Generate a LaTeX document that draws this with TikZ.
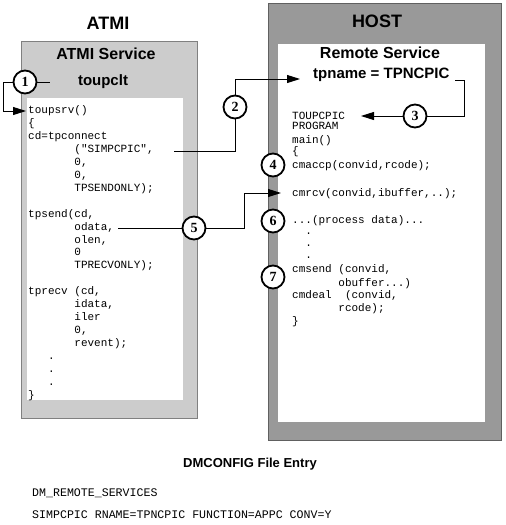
\documentclass[tikz,border=0pt]{standalone}
\usepackage{fontspec}
\setmainfont{Liberation Serif}
\newfontfamily\sansf{Liberation Sans}
\newfontfamily\monof{Liberation Mono}
\usetikzlibrary{arrows.meta}
\definecolor{lgray}{RGB}{204,204,204}
\definecolor{lgrayb}{RGB}{128,128,128}
\definecolor{dgray}{RGB}{153,153,153}
\definecolor{dgrayb}{RGB}{96,96,96}
\begin{document}
\begin{tikzpicture}[x=1pt,y=-1pt,
  title/.style={font=\sansf\bfseries\fontsize{18}{18}\selectfont, inner sep=0},
  sub/.style={font=\sansf\bfseries\fontsize{16}{16}\selectfont, inner sep=0},
  pname/.style={font=\sansf\bfseries\fontsize{15}{15}\selectfont, inner sep=0},
  code/.style={font=\monof\fontsize{11}{11}\selectfont, anchor=base west, inner sep=0},
  bigcode/.style={font=\monof\fontsize{11.6}{11.6}\selectfont, anchor=base west, inner sep=0},
  num/.style={circle, draw, line width=1.8pt, fill=white, minimum size=23pt, inner sep=0,
    font=\bfseries\fontsize{14}{14}\selectfont},
  conn/.style={line width=0.9pt},
  arr/.style={conn, -{Triangle[length=13pt,width=8pt]}}]
\fill[white] (0,0) rectangle (506,525);
\useasboundingbox (0,0) rectangle (506,525);
% boxes
\draw[lgrayb, fill=lgray] (21,41) rectangle (197,418);
\fill[white] (27,98) rectangle (183,400);
\draw[dgrayb, fill=dgray] (268,3) rectangle (501,440);
\fill[white] (278,44) rectangle (485,422);
% titles
\node[title] (atmi) at (108,23) {ATMI};
\node[title] (host) at (377,21) {HOST};
\node[sub] (atmisvc) at (106,54) {ATMI Service};
\node[sub] (remsvc) at (380,53) {Remote Service};
\node[pname, anchor=base] (toupclt) at (103,85) {toupclt};
\node[pname, anchor=base west] (tpname) at (313,78) {tpname = TPNCPIC};
% left code
\foreach \i/\t/\c in {0/{toupsrv()}/0, 1/{\{}/0, 2/{cd=tpconnect}/0, 3/{("SIMPCPIC",}/7,
  4/{0,}/7, 5/{0,}/7, 6/{TPSENDONLY);}/7, 8/{tpsend(cd,}/0, 9/{odata,}/7, 10/{olen,}/7,
  11/{0}/7, 12/{TPRECVONLY);}/7, 14/{tprecv (cd,}/0, 15/{idata,}/7, 16/{iler}/7, 17/{0,}/7,
  18/{revent);}/7, 19/{.}/3, 20/{.}/3, 21/{.}/3, 22/{\}}/0}
  \node[code] (L\i) at (28+\c*6.6, 113.5+\i*12.95) {\t};
% host code
\node[code] (h1) at (292,119) {TOUPCPIC};
\node[code] (h2) at (292,129.5) {PROGRAM};
\node[code] (h3) at (292,143) {main()};
\node[code] (h4) at (292,154.5) {\{};
\node[code] (h5) at (292,168.5) {cmaccp(convid,rcode);};
\node[code] (h6) at (292,196.5) {cmrcv(convid,ibuffer,..);};
\node[code] (h7) at (292,223.5) {...(process data)...};
\node[code] (h8) at (292+2*6.6,234) {.};
\node[code] (h9) at (292+2*6.6,246) {.};
\node[code] (h10) at (292+2*6.6,258) {.};
\node[code] (h11) at (292,272.5) {cmsend (convid,};
\node[code] (h12) at (292+7*6.6,286) {obuffer...)};
\node[code] (h13) at (292,298.5) {cmdeal\ \ (convid,};
\node[code] (h14) at (292+7*6.6,311.5) {rcode);};
\node[code] (h15) at (292,324) {\}};
% bottom
\node[font=\sansf\bfseries\fontsize{13}{13}\selectfont, inner sep=0] (dmc) at (250,464) {DMCONFIG File Entry};
\node[bigcode] (dmrs) at (32,496) {DM\_REMOTE\_SERVICES};
\node[bigcode] (entry) at (32,518) {SIMPCPIC RNAME=TPNCPIC FUNCTION=APPC CONV=Y};
% numbered circles
\node[num] (c1) at (25,82) {1};
\node[num] (c2) at (235,107) {2};
\node[num] (c3) at (415,116) {3};
\node[num] (c4) at (273,165) {4};
\node[num] (c5) at (194,228) {5};
\node[num] (c6) at (273,221) {6};
\node[num] (c7) at (273,277) {7};
% connector points
\coordinate (k1) at (3,82);
\coordinate (a1) at (26,111);
\coordinate (s1) at (50,82);
\coordinate (a2) at (300,79);
\coordinate (e2) at (174,151);
\coordinate (k3) at (464,80);
\coordinate (e3) at (455,80);
\coordinate (a3) at (361,116);
\coordinate (e5) at (118,228);
\coordinate (k5) at (244,193);
\coordinate (a5) at (281,193);
% connectors
\draw[arr] (c1.west) -- (k1) |- (a1);
\draw[conn] (c1.east) -- (s1);
\draw[arr] (c2.north) |- (a2);
\draw[conn] (c2.south) |- (e2);
\draw[conn] (c3.east) -| (k3) -- (e3);
\draw[arr] (c3.west) -- (a3);
\draw[conn] (c5.west) -- (e5);
\draw[arr] (c5.east) -| (k5) -- (a5);
\end{tikzpicture}
\end{document}
